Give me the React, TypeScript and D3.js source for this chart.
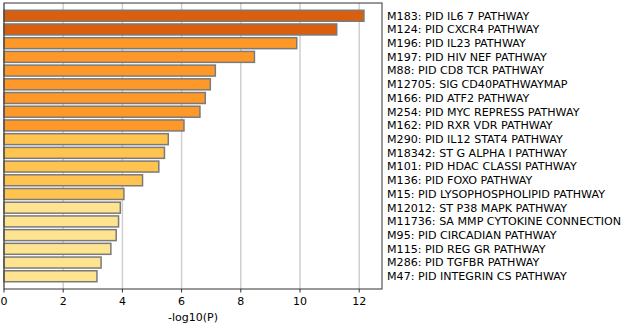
import React from 'react';
import { scaleLinear, scaleBand } from 'd3';

// pathway terms, top to bottom
const terms = [
  'M183: PID IL6 7 PATHWAY',
  'M124: PID CXCR4 PATHWAY',
  'M196: PID IL23 PATHWAY',
  'M197: PID HIV NEF PATHWAY',
  'M88: PID CD8 TCR PATHWAY',
  'M12705: SIG CD40PATHWAYMAP',
  'M166: PID ATF2 PATHWAY',
  'M254: PID MYC REPRESS PATHWAY',
  'M162: PID RXR VDR PATHWAY',
  'M290: PID IL12 STAT4 PATHWAY',
  'M18342: ST G ALPHA I PATHWAY',
  'M101: PID HDAC CLASSI PATHWAY',
  'M136: PID FOXO PATHWAY',
  'M15: PID LYSOPHOSPHOLIPID PATHWAY',
  'M12012: ST P38 MAPK PATHWAY',
  'M11736: SA MMP CYTOKINE CONNECTION',
  'M95: PID CIRCADIAN PATHWAY',
  'M115: PID REG GR PATHWAY',
  'M286: PID TGFBR PATHWAY',
  'M47: PID INTEGRIN CS PATHWAY',
];

// -log10(P) values
const logP = [
  12.16, 11.24, 9.89, 8.46, 7.14, 6.97, 6.8, 6.62, 6.08, 5.55,
  5.42, 5.23, 4.68, 4.05, 3.93, 3.87, 3.79, 3.61, 3.28, 3.14,
];

// colour group per bar
const group = [0, 0, 1, 1, 1, 1, 1, 1, 1, 2, 2, 2, 2, 2, 3, 3, 3, 3, 3, 3];
const palette = ['#d95f0e', '#fe9929', '#fec44f', '#fee391'];

const xTicks = [0, 2, 4, 6, 8, 10, 12];

export default function App() {
  const width = 624;
  const height = 326;
  const margin = { top: 3, right: 242, bottom: 37, left: 4 };
  const innerW = width - margin.left - margin.right;
  const innerH = height - margin.top - margin.bottom;

  const x = scaleLinear().domain([0, 12.77]).range([0, innerW]);
  const y = scaleBand<string>()
    .domain(terms)
    .range([0, innerH])
    .paddingInner(0.2)
    .paddingOuter(0.53);

  const font = 'DejaVu Sans, sans-serif';

  return (
    <svg
      width={width}
      height={height}
      style={{ position: 'absolute', left: 0, top: 0 }}
    >
      <rect width={width} height={height} fill="#fff" />
      <g transform={`translate(${margin.left},${margin.top})`}>
        {/* grid */}
        {xTicks.map(t => (
          <line
            key={'g' + t}
            x1={x(t)}
            x2={x(t)}
            y1={0}
            y2={innerH}
            stroke="#cfcfcf"
            strokeWidth={1.5}
          />
        ))}

        {/* bars */}
        {terms.map((d, i) => (
          <rect
            key={d}
            x={x(0)}
            y={y(d)}
            width={x(logP[i])}
            height={y.bandwidth()}
            fill={palette[group[i]]}
            stroke="#7a7a7a"
            strokeWidth={1.5}
          />
        ))}

        {/* frame */}
        <rect
          x={0}
          y={0}
          width={innerW}
          height={innerH}
          fill="none"
          stroke="#333"
          strokeWidth={1}
        />

        {/* x ticks */}
        {xTicks.map(t => (
          <g key={'t' + t} transform={`translate(${x(t)},${innerH})`}>
            <line y1={0} y2={3.5} stroke="#333" />
            <text
              y={16}
              textAnchor="middle"
              fontFamily={font}
              fontSize={11}
              fill="#000"
            >
              {t}
            </text>
          </g>
        ))}
        <text
          x={innerW / 2}
          y={innerH + 31.5}
          textAnchor="middle"
          fontFamily={font}
          fontSize={11}
          fill="#000"
        >
          -log10(P)
        </text>

        {/* term labels */}
        {terms.map(d => (
          <text
            key={'l' + d}
            x={innerW + 5}
            y={(y(d) ?? 0) + y.bandwidth() / 2}
            dy="0.35em"
            fontFamily={font}
            fontSize={11.1}
            fill="#000"
          >
            {d}
          </text>
        ))}
      </g>
    </svg>
  );
}
